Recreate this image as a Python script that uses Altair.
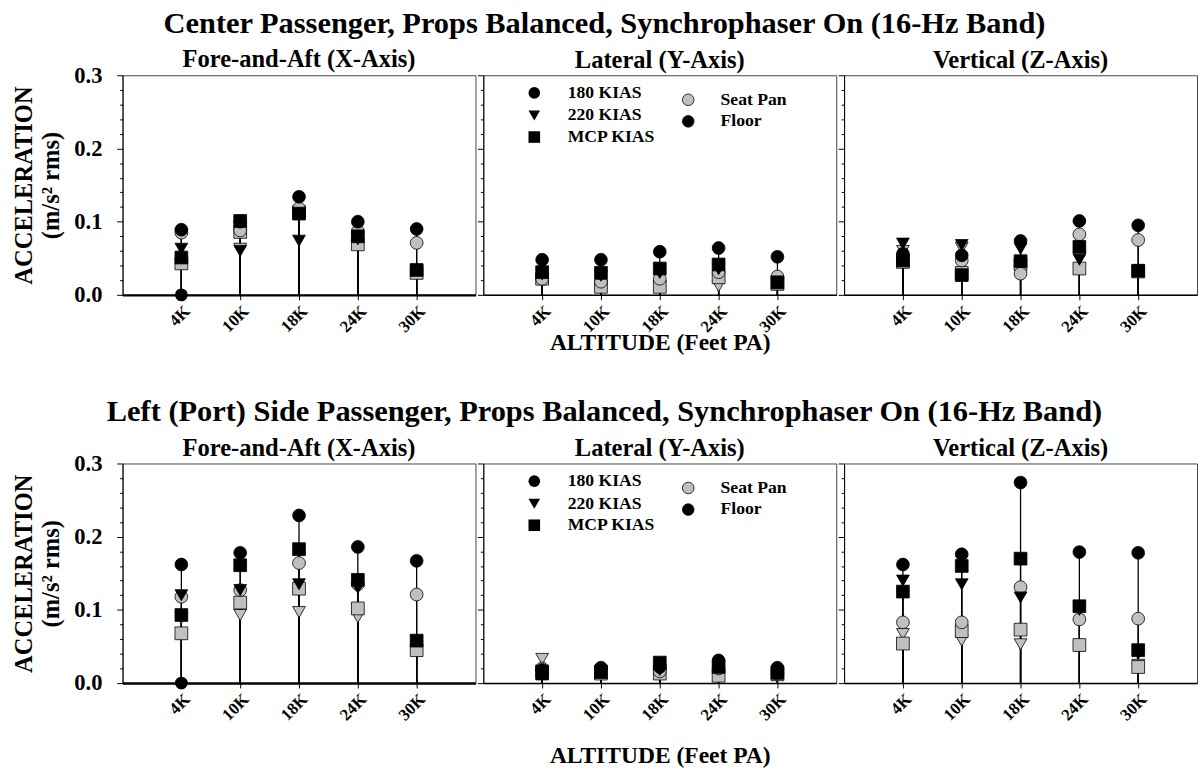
import altair as alt
import pandas as pd

FONT = "Liberation Serif"

ALT = ["4K", "10K", "18K", "24K", "30K"]
# drawing order (first drawn = bottom)
SERIES = ["Seat 220", "Seat MCP", "Seat 180", "Floor 220", "Floor MCP", "Floor 180"]

ROW_TITLES = [
    "Center Passenger, Props Balanced, Synchrophaser On (16-Hz Band)",
    "Left (Port) Side Passenger, Props Balanced, Synchrophaser On (16-Hz Band)",
]
PANEL_TITLES = ["Fore-and-Aft (X-Axis)", "Lateral (Y-Axis)", "Vertical (Z-Axis)"]

# ---- Center passenger ----
CENTER_X = {
    "Floor 180": [0.089, 0.100, 0.134, 0.100, 0.090],
    "Floor 220": [0.063, 0.060, 0.074, 0.076, 0.034],
    "Floor MCP": [0.051, 0.101, 0.111, 0.080, 0.034],
    "Seat 180": [0.085, 0.088, 0.118, 0.087, 0.071],
    "Seat 220": [0.083, 0.063, 0.112, 0.072, 0.032],
    "Seat MCP": [0.043, 0.086, 0.113, 0.069, 0.030],
}
CENTER_Y = {
    "Floor 180": [0.048, 0.048, 0.059, 0.064, 0.052],
    "Floor 220": [0.028, 0.026, 0.030, 0.035, 0.018],
    "Floor MCP": [0.031, 0.030, 0.036, 0.0415, 0.017],
    "Seat 180": [0.022, 0.018, 0.022, 0.031, 0.025],
    "Seat 220": [0.020, 0.012, 0.012, 0.012, 0.015],
    "Seat MCP": [0.022, 0.011, 0.011, 0.024, 0.015],
}
CENTER_Z = {
    "Floor 180": [0.056, 0.054, 0.0736, 0.101, 0.095],
    "Floor 220": [0.070, 0.068, 0.063, 0.048, 0.033],
    "Floor MCP": [0.047, 0.027, 0.046, 0.0656, 0.033],
    "Seat 180": [0.052, 0.047, 0.029, 0.0826, 0.075],
    "Seat 220": [0.060, 0.064, 0.040, 0.050, 0.030],
    "Seat MCP": [0.045, 0.030, 0.042, 0.036, 0.032],
}
# ---- Left (port) side passenger ----
LEFT_X = {
    "Floor 180": [0.162, 0.178, 0.229, 0.186, 0.167],
    "Floor 220": [0.120, 0.127, 0.135, 0.130, 0.057],
    "Floor MCP": [0.093, 0.161, 0.183, 0.141, 0.058],
    "Seat 180": [0.118, 0.127, 0.164, 0.135, 0.121],
    "Seat 220": [0.089, 0.093, 0.097, 0.090, 0.050],
    "Seat MCP": [0.068, 0.110, 0.129, 0.102, 0.045],
}
LEFT_Y = {
    "Floor 180": [0.018, 0.021, 0.022, 0.031, 0.021],
    "Floor 220": [0.016, 0.017, 0.018, 0.024, 0.016],
    "Floor MCP": [0.013, 0.015, 0.028, 0.022, 0.014],
    "Seat 180": [0.020, 0.020, 0.016, 0.020, 0.013],
    "Seat 220": [0.033, 0.012, 0.012, 0.013, 0.012],
    "Seat MCP": [0.016, 0.013, 0.013, 0.010, 0.012],
}
LEFT_Z = {
    "Floor 180": [0.162, 0.176, 0.274, 0.179, 0.178],
    "Floor 220": [0.140, 0.135, 0.117, 0.100, 0.040],
    "Floor MCP": [0.125, 0.160, 0.170, 0.105, 0.045],
    "Seat 180": [0.083, 0.083, 0.131, 0.087, 0.088],
    "Seat 220": [0.067, 0.058, 0.053, 0.050, 0.025],
    "Seat MCP": [0.054, 0.071, 0.073, 0.052, 0.022],
}
# extra black markers sitting at zero (fore-and-aft panels, 4K)
ZERO_MARKERS = ["4K"]

ROWS = [[CENTER_X, CENTER_Y, CENTER_Z], [LEFT_X, LEFT_Y, LEFT_Z]]
XTITLE_PAD = [-4, 21]

LEGEND_SPEEDS = ["180 KIAS", "220 KIAS", "MCP KIAS"]
LEGEND_LOCS = ["Seat Pan", "Floor"]

SPEED_DOMAIN = ["180", "220", "MCP"]
SHAPES = ["circle", "triangle-down", "square"]
LOC_DOMAIN = ["Seat Pan", "Floor"]
FILLS = ["#c0c0c0", "#000000"]

W, H = 360, 224
Y_TICKS = [round(i * 0.02, 2) for i in range(16)]
MAJOR = "round(datum.value*100) % 10 == 0"


def make_df(series_dict):
    rows = []
    for z, s in enumerate(SERIES):
        loc, spd = s.split(" ")
        loc = "Seat Pan" if loc == "Seat" else "Floor"
        for a, v in zip(ALT, series_dict[s]):
            rows.append({"alt": a, "value": v, "loc": loc, "speed": spd, "z": z})
    return pd.DataFrame(rows)


def panel(series_dict, col, title, xpad):
    df = make_df(series_dict)
    left = col == 0
    mid = col == 1
    x = alt.X(
        "alt:N",
        sort=ALT,
        scale=alt.Scale(type="point", padding=1, domain=ALT),
        axis=alt.Axis(
            labelAngle=-45,
            labelFont=FONT,
            labelFontWeight="bold",
            labelFontSize=17,
            labelColor="black",
            labelPadding=3,
            tickSize=5,
            tickColor="black",
            domainColor="black",
            domainWidth=2.5 if left else 1.5,
            title="ALTITUDE (Feet PA)" if mid else None,
            titleFont=FONT,
            titleFontSize=24,
            titleFontWeight="bold",
            titleColor="black",
            titlePadding=xpad,
        ),
    )
    yaxis = alt.Axis(
        values=Y_TICKS,
        labelExpr=(MAJOR + " ? format(datum.value, '.1f') : ''") if left else "''",
        labels=left,
        labelFont=FONT,
        labelFontWeight="bold",
        labelFontSize=23,
        labelColor="black",
        labelPadding=15,
        tickSize={"condition": {"test": MAJOR, "value": 6}, "value": 3},
        tickColor="black",
        domainColor="black",
        grid=False,
        title=["ACCELERATION", "(m/s\u00b2 rms)"] if left else None,
        titleFont=FONT,
        titleFontSize=25,
        titleFontWeight="bold",
        titleColor="black",
        titlePadding=11,
        titleLineHeight=27,
    )
    y = alt.Y("value:Q", scale=alt.Scale(domain=[0, 0.3], nice=False, zero=True), axis=yaxis)

    base = alt.Chart(df)
    rules = base.mark_rule(color="black", strokeWidth=1.3).encode(x=x, y=y, y2=alt.datum(0))
    pts = base.mark_point(filled=True, size=170, stroke="black", strokeWidth=0.8, opacity=1).encode(
        x=x,
        y=y,
        shape=alt.Shape("speed:N", scale=alt.Scale(domain=SPEED_DOMAIN, range=SHAPES), legend=None),
        fill=alt.Fill("loc:N", scale=alt.Scale(domain=LOC_DOMAIN, range=FILLS), legend=None),
        order=alt.Order("z:Q"),
    )
    layers = [rules, pts]
    if left:
        zdf = pd.DataFrame({"alt": ZERO_MARKERS, "value": [0.0] * len(ZERO_MARKERS)})
        layers.append(
            alt.Chart(zdf)
            .mark_point(filled=True, size=170, shape="circle", color="black", opacity=1)
            .encode(x=x, y=y)
        )
    if mid:
        one = pd.DataFrame({"k": [0]})
        sym_y = [18, 41, 63]
        for lab, shp, yy in zip(LEGEND_SPEEDS, SHAPES, sym_y):
            layers.append(
                alt.Chart(one).mark_point(filled=True, size=140, shape=shp, color="black", opacity=1)
                .encode(x=alt.value(52), y=alt.value(yy))
            )
            layers.append(
                alt.Chart(one).mark_text(text=lab, font=FONT, fontWeight="bold", fontSize=18,
                                         align="left", baseline="middle", color="black")
                .encode(x=alt.value(86), y=alt.value(yy))
            )
        for lab, fillc, yy in zip(LEGEND_LOCS, FILLS, [25, 47]):
            layers.append(
                alt.Chart(one).mark_point(filled=True, size=140, shape="circle", fill=fillc,
                                          stroke="black", strokeWidth=0.8, opacity=1)
                .encode(x=alt.value(209), y=alt.value(yy))
            )
            layers.append(
                alt.Chart(one).mark_text(text=lab, font=FONT, fontWeight="bold", fontSize=18,
                                         align="left", baseline="middle", color="black")
                .encode(x=alt.value(242), y=alt.value(yy))
            )
    return alt.layer(*layers).properties(
        width=W,
        height=H,
        title=alt.TitleParams(title, font=FONT, fontSize=25, fontWeight="bold", color="black",
                              offset=-8 if left else 2, frame="group"),
    )


rows = []
for r, (rt, panels) in enumerate(zip(ROW_TITLES, ROWS)):
    hc = alt.hconcat(
        *[panel(p, c, PANEL_TITLES[c], XTITLE_PAD[r]) for c, p in enumerate(panels)], spacing=0
    ).properties(
        title=alt.TitleParams(rt, font=FONT, fontSize=31, fontWeight="bold", color="black",
                              anchor="middle", offset=8)
    )
    rows.append(hc)

chart = (
    alt.vconcat(*rows, spacing=41)
    .properties(padding={"left": 11, "top": 0, "right": 0, "bottom": 0})
    .configure_view(stroke="#444", strokeWidth=1)
    .configure_concat(spacing=0)
)

chart.save("out.html", embed_options={"renderer": "svg", "actions": False})
